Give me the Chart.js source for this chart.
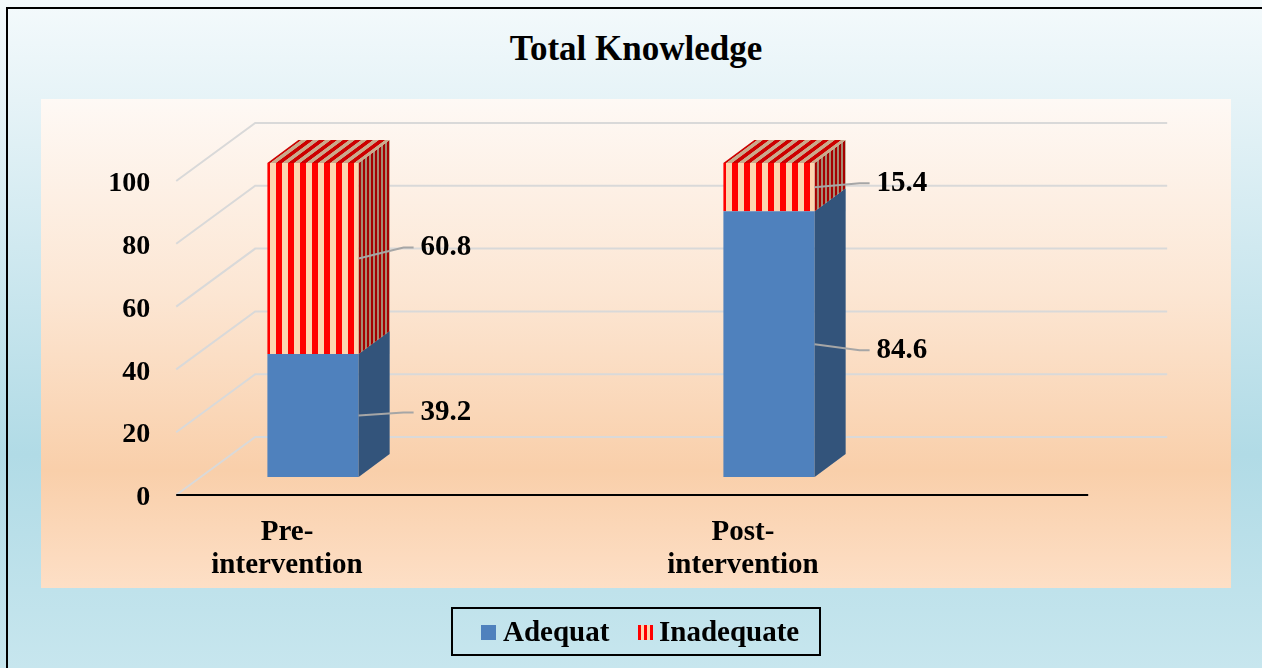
<!DOCTYPE html>
<html lang="en">
<head>
<meta charset="UTF-8">
<title>Total Knowledge</title>
<style>
    body {
        margin: 0;
        width: 1262px;
        height: 668px;
        overflow: hidden;
        position: relative;
        font-family: "Liberation Serif", "Times New Roman", serif;
        background: linear-gradient(180deg, #f4fafc 0%, #e6f3f7 15%, #b1dbe6 68%, #c7e6ee 100%);
    }
    #frame {
        position: absolute;
        left: 6px;
        top: 7px;
        width: 1300px;
        height: 700px;
        border: 2px solid #000;
    }
    #plot-bg {
        position: absolute;
        left: 41px;
        top: 99px;
        width: 1190px;
        height: 489px;
        background: linear-gradient(180deg, #fef9f5 0%, #fce6d3 40%, #f9cfaa 76%, #fddfc6 100%);
    }
    #title {
        position: absolute;
        left: 0;
        top: 31px;
        width: 1272px;
        text-align: center;
        font-size: 35px;
        line-height: 35px;
        font-weight: bold;
    }
    #chart {
        position: absolute;
        left: 0;
        top: 0;
    }
    #legend {
        position: absolute;
        left: 451px;
        top: 607px;
        width: 366px;
        height: 45px;
        border: 2px solid #000;
        font-size: 29px;
        font-weight: bold;
        line-height: 45px;
    }
    #legend span { position: absolute; }
    .swatch { width: 15px; height: 15px; top: 16px; }
</style>
<script src="https://cdn.jsdelivr.net/npm/chart.js"></script>
</head>
<body>
<div id="frame"></div>
<div id="plot-bg"></div>
<div id="title">Total Knowledge</div>
<canvas id="chart" width="1262" height="668"></canvas>
<div id="legend">
    <span class="swatch" style="left:28px;background:#4f81bd"></span>
    <span style="left:50px">Adequat</span>
    <span class="swatch" style="left:185px;background:repeating-linear-gradient(90deg,#ff0000 0 3px,#fdd5b0 3px 6px)"></span>
    <span style="left:206px">Inadequate</span>
</div>

<script>
    const categories = [['Pre-', 'intervention'], ['Post-', 'intervention']];
    const seriesNames = ['Adequat', 'Inadequate'];
    const adequat = [39.2, 84.6];
    const inadequate = [60.8, 15.4];
    const yTicks = [0, 20, 40, 60, 80, 100];

    // label nudges (px, vertical) for each dataset / bar
    const labelNudge = [[-3, 6], [-11, -4]];

    const font = { family: '"Liberation Serif", "Times New Roman", serif', size: 28, weight: 'bold' };

    // red / peach vertical stripe fill
    function stripes() {
        const c = document.createElement('canvas');
        c.width = 12; c.height = 4;
        const g = c.getContext('2d');
        g.fillStyle = '#fdd5b0';
        g.fillRect(0, 0, 12, 4);
        g.fillStyle = '#ff0000';
        g.fillRect(0, 0, 6, 4);
        return g.createPattern(c, 'repeat');
    }
    const stripeFill = stripes();

    const DX = 31, DY = -23;          // bar depth
    const FRONT = 18, BACK = -40;     // floor front / back wall offset from bar plane
    const WALL_DX = 79;

    const grid3d = {
        id: 'grid3d',
        beforeDatasetsDraw(chart) {
            const ctx = chart.ctx;
            const y = chart.scales.y;
            const left = chart.scales.x.getPixelForValue(-0.3);
            const right = left + 912;
            ctx.save();
            ctx.strokeStyle = '#d9d9d9';
            ctx.lineWidth = 2;
            yTicks.forEach(v => {
                const p = y.getPixelForValue(v);
                ctx.beginPath();
                ctx.moveTo(left, p + FRONT);
                ctx.lineTo(left + WALL_DX, p + BACK);
                ctx.lineTo(right + WALL_DX, p + BACK);
                ctx.stroke();
            });
            ctx.strokeStyle = '#000';
            ctx.lineWidth = 2;
            const p0 = y.getPixelForValue(0) + FRONT;
            ctx.beginPath();
            ctx.moveTo(left, p0);
            ctx.lineTo(right, p0);
            ctx.stroke();
            ctx.restore();
        }
    };

    const bars3d = {
        id: 'bars3d',
        afterDatasetsDraw(chart) {
            const ctx = chart.ctx;
            const last = chart.data.datasets.length - 1;
            chart.data.datasets.forEach((ds, di) => {
                const meta = chart.getDatasetMeta(di);
                meta.data.forEach((bar, i) => {
                    const w = bar.width;
                    const l = bar.x - w / 2, r = bar.x + w / 2;
                    const top = Math.min(bar.y, bar.base), bot = Math.max(bar.y, bar.base);
                    // side face
                    ctx.save();
                    ctx.transform(DX / w, DY / w, 0, 1, r, 0);
                    ctx.fillStyle = ds.backgroundColor;
                    ctx.fillRect(0, top, w, bot - top);
                    ctx.fillStyle = 'rgba(0,0,0,0.35)';
                    ctx.fillRect(0, top, w, bot - top);
                    ctx.restore();
                    // top face
                    if (di === last) {
                        ctx.save();
                        ctx.transform(1, 0, DX, DY, 0, top);
                        ctx.fillStyle = ds.backgroundColor;
                        ctx.fillRect(l, 0, w, 1);
                        ctx.fillStyle = 'rgba(0,0,0,0.2)';
                        ctx.fillRect(l, 0, w, 1);
                        ctx.restore();
                    }
                });
            });
            // value labels with leader lines
            chart.data.datasets.forEach((ds, di) => {
                const meta = chart.getDatasetMeta(di);
                meta.data.forEach((bar, i) => {
                    const r = bar.x + bar.width / 2;
                    const mid = (bar.y + bar.base) / 2;
                    const ty = mid + labelNudge[di][i];
                    ctx.save();
                    ctx.strokeStyle = '#a6a6a6';
                    ctx.lineWidth = 2;
                    ctx.beginPath();
                    ctx.moveTo(r, mid);
                    ctx.lineTo(r + 45, ty);
                    ctx.lineTo(r + 55, ty);
                    ctx.stroke();
                    ctx.fillStyle = '#000';
                    ctx.font = 'bold 29px "Liberation Serif", "Times New Roman", serif';
                    ctx.textAlign = 'left';
                    ctx.textBaseline = 'middle';
                    ctx.fillText(ds.data[i].toFixed(1), r + 62, ty);
                    ctx.restore();
                });
            });
        }
    };

    new Chart(document.getElementById('chart'), {
        type: 'bar',
        data: {
            labels: categories,
            datasets: [
                { label: seriesNames[0], data: adequat, backgroundColor: '#4f81bd' },
                { label: seriesNames[1], data: inadequate, backgroundColor: stripeFill }
            ]
        },
        options: {
            responsive: false,
            animation: false,
            devicePixelRatio: 1,
            layout: { padding: { left: 85, right: 265, top: 163, bottom: 89 } },
            datasets: { bar: { barPercentage: 0.2, categoryPercentage: 1 } },
            plugins: {
                legend: { display: false },
                title: { display: false },
                tooltip: { enabled: false }
            },
            scales: {
                x: {
                    stacked: true,
                    grid: { display: false, drawTicks: false },
                    border: { display: false },
                    afterFit: s => { s.height = 102; },
                    ticks: {
                        font: { family: font.family, size: 29, weight: 'bold', lineHeight: 1.14 },
                        color: '#000',
                        padding: 39,
                        labelOffset: -26,
                        maxRotation: 0,
                        autoSkip: false
                    }
                },
                y: {
                    stacked: true,
                    min: 0,
                    max: 100,
                    position: { x: -0.357 },
                    grid: { display: false, drawTicks: false },
                    border: { display: false },
                    afterBuildTicks: s => { s.ticks = yTicks.map(v => ({ value: v })); },
                    ticks: {
                        font: font,
                        color: '#000',
                        padding: 0,
                        labelOffset: 21
                    }
                }
            }
        },
        plugins: [grid3d, bars3d]
    });
</script>
</body>
</html>
